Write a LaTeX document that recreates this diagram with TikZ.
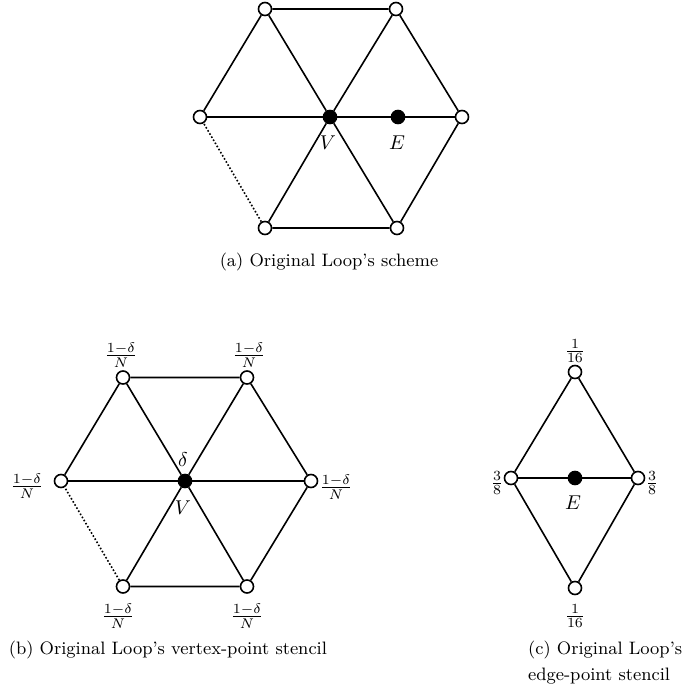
\documentclass[tikz,border=0pt]{standalone}
\begin{document}
\begin{tikzpicture}[x=0.5pt,y=-0.5pt,line width=0.8pt,
  vtx/.style={circle,draw,fill=white,inner sep=0pt,minimum size=6.5pt},
  ctr/.style={circle,draw,fill=black,inner sep=0pt,minimum size=6.5pt},
  dotedge/.style={densely dotted},
  wlabel/.style={inner sep=0pt},
  captext/.style={inner sep=0pt,font=\small}]
\useasboundingbox (0,0) rectangle (685,697);

% (a) Loop scheme: one-ring around vertex V with edge point E
\node[vtx] (a1) at (265,9) {};
\node[vtx] (a2) at (396,9) {};
\node[vtx] (a3) at (462,117) {};
\node[vtx] (a4) at (397,228) {};
\node[vtx] (a5) at (265,228) {};
\node[vtx] (a6) at (200,117) {};
\node[ctr] (aV) at (330,117) {};
\node[ctr] (aE) at (398,117) {};
\draw (a1) -- (a2) -- (a3) -- (a4) -- (a5);
\draw (a6) -- (a1);
\draw[dotedge] (a5) -- (a6);
\draw (aV) -- (a1); \draw (aV) -- (a2); \draw (aV) -- (a4);
\draw (aV) -- (a5); \draw (aV) -- (a6);
\draw (aV) -- (aE) -- (a3);
\node[wlabel] (aVl) at (328,143) {$V$};
\node[wlabel] (aEl) at (397,143) {$E$};
\node[captext] (capa) at (329,262) {(a) Original Loop's scheme};

% (b) vertex-point stencil
\node[vtx] (b1) at (123,377.5) {};
\node[vtx] (b2) at (247,377.5) {};
\node[vtx] (b3) at (311,481) {};
\node[vtx] (b4) at (247,586.5) {};
\node[vtx] (b5) at (123,586.5) {};
\node[vtx] (b6) at (61,481) {};
\node[ctr] (bV) at (185,481) {};
\draw (b1) -- (b2) -- (b3) -- (b4) -- (b5);
\draw (b6) -- (b1);
\draw[dotedge] (b5) -- (b6);
\draw (bV) -- (b1); \draw (bV) -- (b2); \draw (bV) -- (b3);
\draw (bV) -- (b4); \draw (bV) -- (b5); \draw (bV) -- (b6);
\node[wlabel] (wb1) at (121,355) {$\frac{1-\delta}{N}$};
\node[wlabel] (wb2) at (249,355) {$\frac{1-\delta}{N}$};
\node[wlabel] (wb3) at (336,487) {$\frac{1-\delta}{N}$};
\node[wlabel] (wb4) at (247,616) {$\frac{1-\delta}{N}$};
\node[wlabel] (wb5) at (118,616) {$\frac{1-\delta}{N}$};
\node[wlabel] (wb6) at (27,486) {$\frac{1-\delta}{N}$};
\node[wlabel] (bdl) at (183,460) {$\delta$};
\node[wlabel] (bVl) at (183,508) {$V$};
\node[captext,anchor=west] (capb) at (8,650) {(b) Original Loop's vertex-point stencil};

% (c) edge-point stencil
\node[vtx] (c1) at (575,372) {};
\node[vtx] (c3) at (638,478) {};
\node[vtx] (c4) at (575,588) {};
\node[vtx] (c6) at (511,478) {};
\node[ctr] (cE) at (575,478) {};
\draw (c1) -- (c3) -- (c4) -- (c6) -- (c1);
\draw (c6) -- (cE) -- (c3);
\node[wlabel] (wc1) at (575,351) {$\frac{1}{16}$};
\node[wlabel] (wc3) at (652,483) {$\frac{3}{8}$};
\node[wlabel] (wc4) at (575,616) {$\frac{1}{16}$};
\node[wlabel] (wc6) at (497,483) {$\frac{3}{8}$};
\node[wlabel] (cEl) at (573,503) {$E$};
\node[captext,anchor=east] (capc1) at (683,650) {(c) Original Loop's};
\node[captext,anchor=west] (capc2) at (capc1.west |- 0,676) {edge-point stencil};
\end{tikzpicture}
\end{document}
